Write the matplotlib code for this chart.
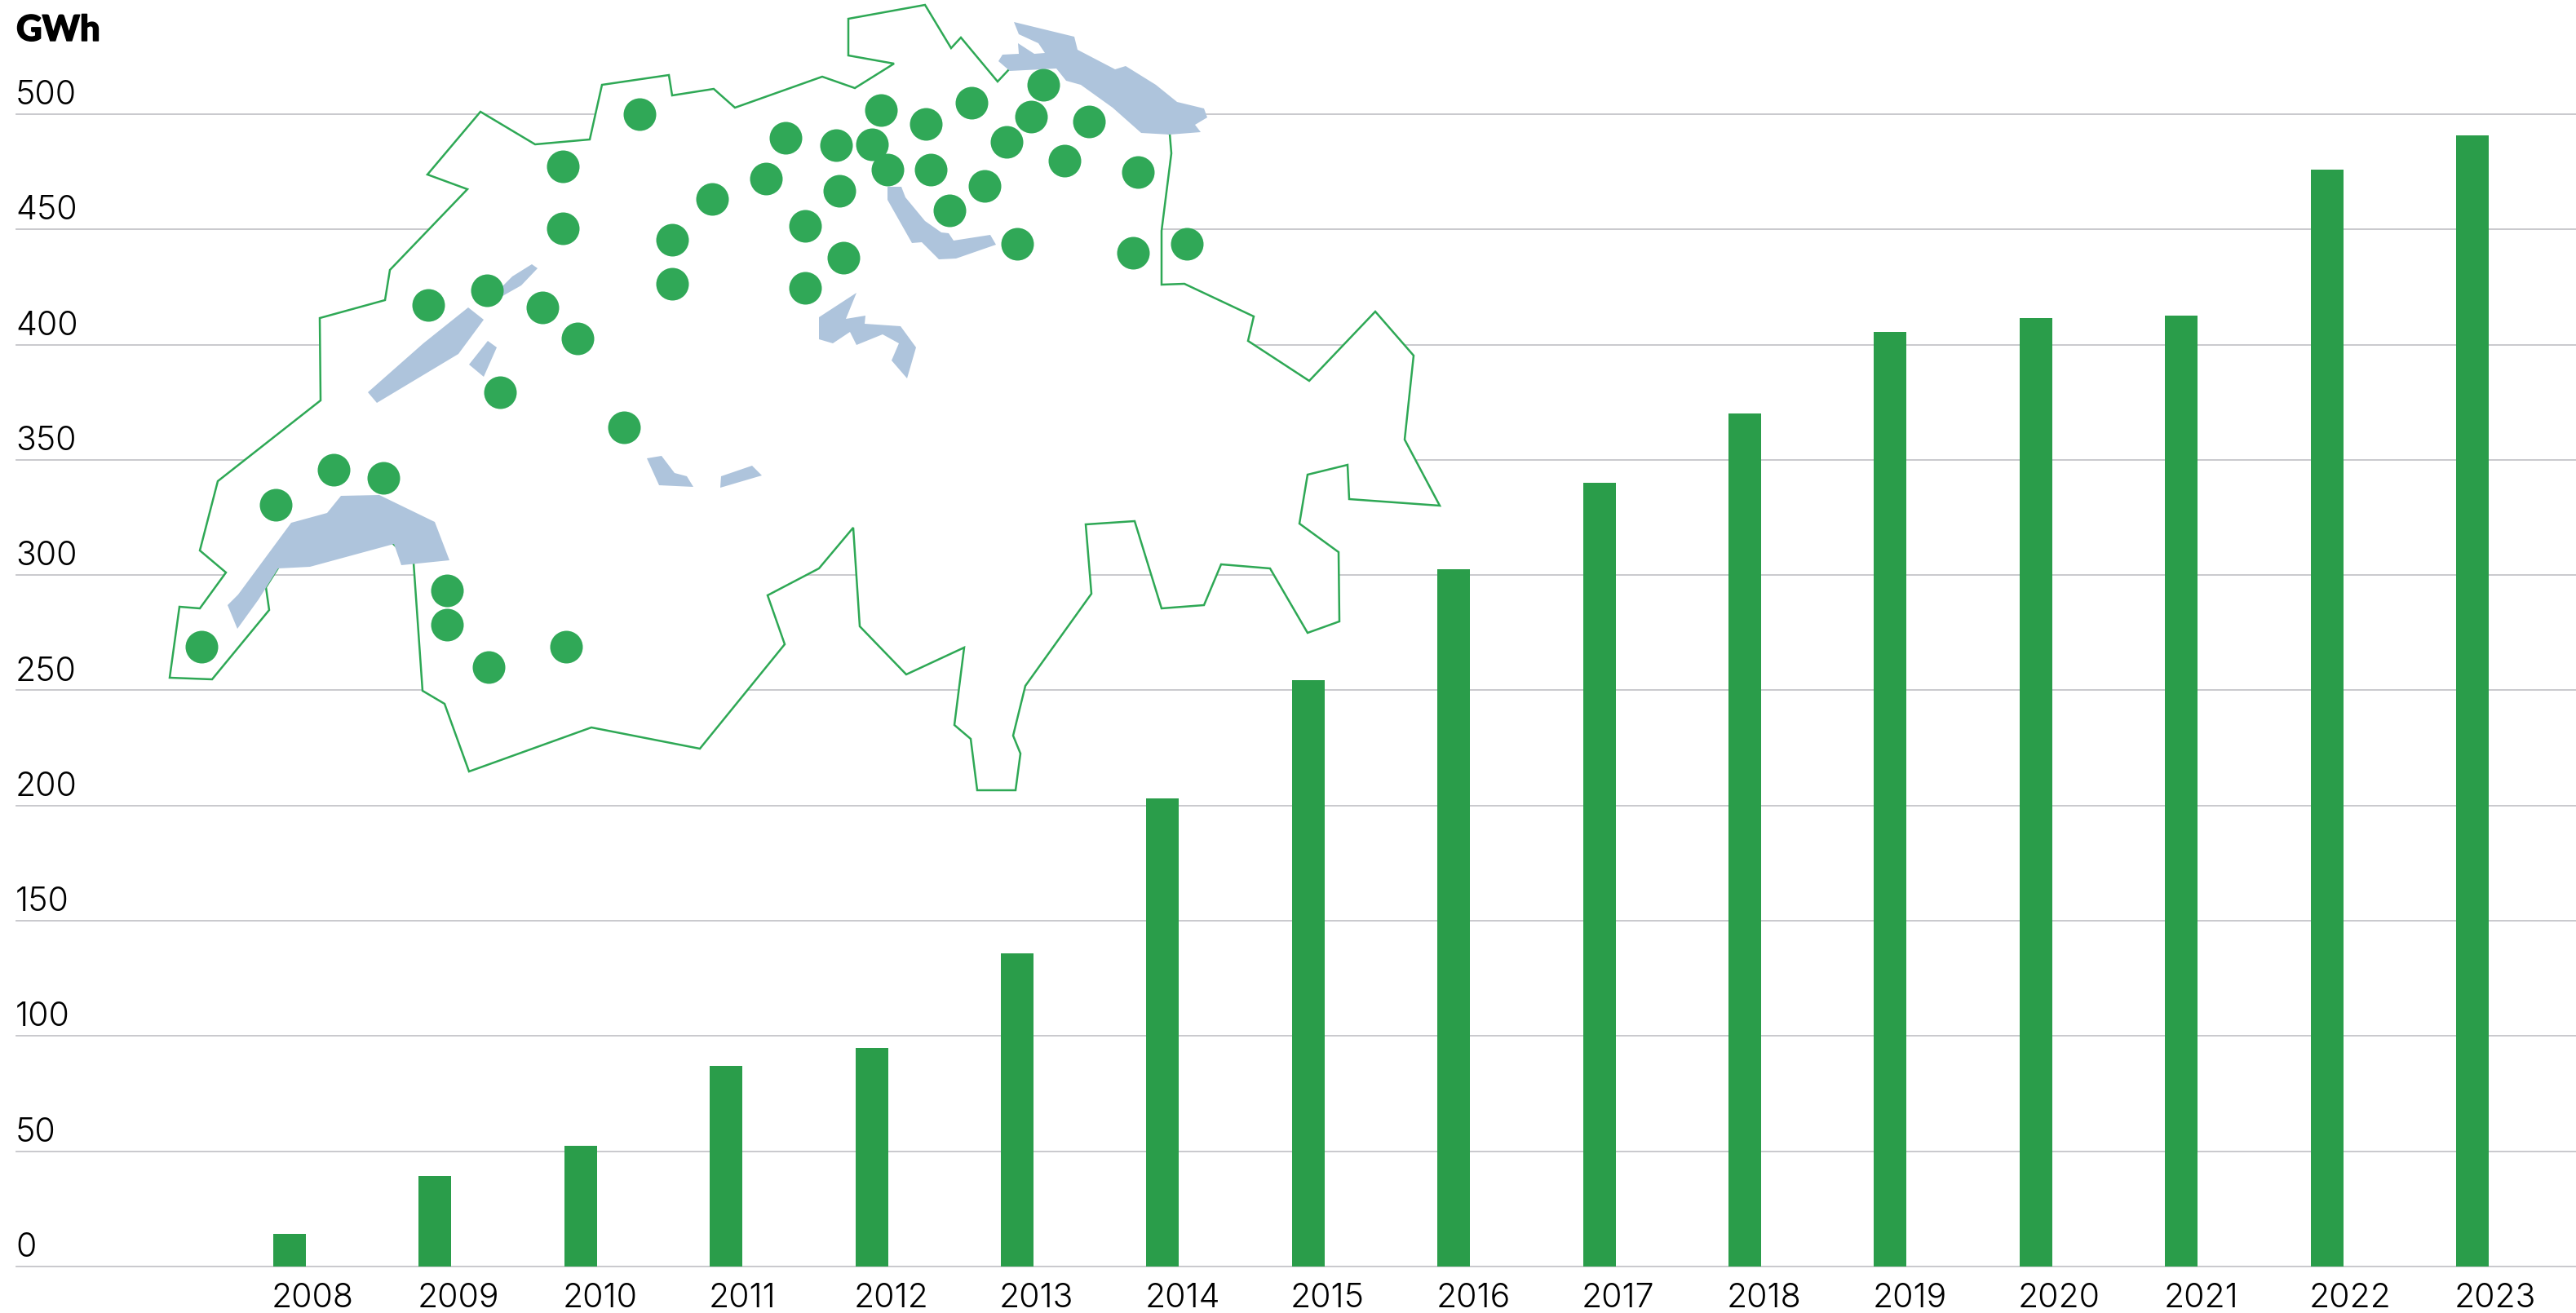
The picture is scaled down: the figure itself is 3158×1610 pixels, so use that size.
import numpy as np
import matplotlib
matplotlib.use("Agg")
import matplotlib.pyplot as plt
import matplotlib.patheffects as pe
from matplotlib.patches import Polygon
from matplotlib.transforms import ScaledTranslation

# ---------- data ----------
years = [2008, 2009, 2010, 2011, 2012, 2013, 2014, 2015,
         2016, 2017, 2018, 2019, 2020, 2021, 2022, 2023]
gwh = [14, 39.4, 52.4, 87, 95, 136, 203, 254.6,
       302.5, 340, 370, 405.5, 411.6, 412.7, 475.8, 490.8]
y_ticks = [0, 50, 100, 150, 200, 250, 300, 350, 400, 450, 500]
unit_label = "GWh"

# ---------- decorative map (image-space outline of Switzerland) ----------
border = [(208,831),(220,744),(245,746),(277,702),(245,675),(267,590),(393,491),(392,390),
          (472,368),(478,331),(573,232),(524,214),(589,137),(656,177),(723,171),(738,104),
          (820,92),(824,117),(875,109),(901,132),(1008,94),(1048,108),(1096,78),(1040,68),
          (1040,23),(1134,6),(1166,59),(1178,46),(1223,100),(1238,84),(1300,80),(1400,150),
          (1434,164),(1436,188),(1424,283),(1424,349),(1452,348),(1537,388),(1530,418),
          (1605,467),(1686,382),(1733,436),(1722,539),(1765,620),(1654,612),(1652,570),
          (1603,582),(1593,642),(1641,677),(1642,762),(1603,776),(1557,697),(1497,692),
          (1476,742),(1424,746),(1391,639),(1331,643),(1338,728),(1257,841),(1242,902),
          (1251,924),(1245,969),(1198,969),(1190,906),(1170,889),(1182,794),(1111,827),
          (1054,768),(1046,647),(1004,697),(941,730),(962,790),(858,918),(725,892),(575,946),
          (545,863),(518,847),(507,690),(480,665),(390,685),(345,690),(326,720),(330,748),(260,833)]
lake_geneva = [(291,771),(279,742),(292,729),(357,641),(401,629),(418,608),(465,607),(533,640),
               (551,687),(492,693),(483,667),(380,695),(341,697),(317,735)]
lake_brienz = [(793,562),(811,559),(827,580),(842,584),(850,597),(808,595)]
lake_thun = [(884,584),(922,571),(934,583),(883,598)]
lake_neuchatel = [(451,481),(519,421),(574,377),(593,392),(562,434),(462,494)]
lake_murten = [(575,447),(598,418),(609,426),(593,462)]
lake_biel = [(614,353),(628,339),(652,324),(659,329),(639,350),(616,363)]
lake_lucerne = [(1050,359),(1037,391),(1061,387),(1060,397),(1104,400),(1123,426),(1112,464),
                (1093,442),(1102,421),(1082,410),(1050,423),(1042,407),(1021,421),(1004,416),(1004,389)]
lake_zurich = [(1088,229),(1105,229),(1110,242),(1134,271),(1154,285),(1163,286),(1169,295),
               (1214,288),(1221,300),(1172,317),(1151,318),(1130,297),(1118,298),(1088,245)]
lake_constance = [(1243,27),(1317,45),(1321,61),(1367,85),(1380,81),(1417,104),(1443,125),(1476,133),
                  (1480,144),(1465,153),(1472,162),(1434,165),(1399,163),(1364,132),(1325,104),
                  (1307,99),(1295,84),(1238,87),(1224,75),(1229,67),(1249,66),(1248,53),(1268,66),
                  (1281,65),(1273,53),(1249,42)]
lakes = [lake_geneva, lake_brienz, lake_thun, lake_neuchatel, lake_murten, lake_biel,
         lake_lucerne, lake_zurich, lake_constance]
site_x = [784,690,690,963,939,873,824,824,525,597,665,708,613,1080,1025,1069,1088,1135,1141,1191,
          1234,1264,1279,1335,1305,1207,1164,1395,1247,1389,1455,1029,987,1034,987,
          765,409,470,338,548,548,599,694,247]
site_y = [140,204,280,169,219,244,294,348,374,356,377,415,481,135,178,177,208,152,208,126,
          174,143,104,149,197,228,258,211,299,310,299,234,277,316,353,
          524,576,586,619,724,766,818,793,793]

# ---------- style ----------
W, H, DPI = 3158, 1610, 100
BAR = "#2A9D4A"
DOT = "#30A857"
LINE = "#2EA855"
LAKE = "#AEC4DC"
GRID = "#C5C5C9"
plt.rcParams["font.family"] = ["Inter", "Lato", "DejaVu Sans"]
FS = 29.5

fig = plt.figure(figsize=(W / DPI, H / DPI), dpi=DPI, facecolor="white")

PX_UNIT = (1553 - 140) / 500
ax = fig.add_axes([20 / W, (H - 1553) / H, (W - 20) / W, 1553 / H - 0.0])
ax.set_ylim(0, 1553 / PX_UNIT)
STEP = 178.4
ax.set_xlim((20 - 355) / STEP, (W - 355) / STEP)
BW = 40 / STEP
x = np.arange(len(years))
ax.bar(x, gwh, width=BW, color=BAR, zorder=3, linewidth=0)
for s in ax.spines.values():
    s.set_visible(False)
ax.patch.set_alpha(0)
ax.set_yticks(y_ticks)
ax.set_yticklabels([str(v) for v in y_ticks], ha="left", va="baseline",
                   fontsize=FS, fontweight=300, color="#000000")
ax.tick_params(axis="y", length=0, pad=0)
shift = ScaledTranslation(-1 / DPI, 12 / DPI, fig.dpi_scale_trans)
for lab in ax.get_yticklabels():
    lab.set_transform(lab.get_transform() + shift)
ax.set_xticks(x - BW / 2)
ax.set_xticklabels([str(y) for y in years], ha="left", va="baseline",
                   fontsize=FS, fontweight=300, color="#000000")
ax.tick_params(axis="x", length=0, pad=0)
shift_x = ScaledTranslation(-2 / DPI, -50 / DPI, fig.dpi_scale_trans)
for lab in ax.get_xticklabels():
    lab.set_transform(lab.get_transform() + shift_x)
ax.grid(axis="y", color=GRID, linewidth=1.3, zorder=0)
ax.grid(axis="x", visible=False)
ax.set_axisbelow(True)
for gl in ax.get_ygridlines():
    gl.set_clip_on(False)

t = fig.text(20 / W, 1 - 50 / H, unit_label, fontsize=31.5, fontweight=900, color="#000000",
             family=["Lato", "DejaVu Sans"], ha="left", va="baseline")
t.set_path_effects([pe.withStroke(linewidth=1.0, foreground="#000000")])

m = fig.add_axes([0, 0, 1, 1], zorder=5)
m.set_xlim(0, W)
m.set_ylim(H, 0)
m.axis("off")
m.patch.set_alpha(0)
m.add_patch(Polygon(border, closed=True, facecolor="white", edgecolor=LINE, linewidth=1.8,
                    joinstyle="miter", zorder=1))
for lk in lakes:
    m.add_patch(Polygon(lk, closed=True, facecolor=LAKE, edgecolor="none", zorder=2))
dot_d_pt = 40 * 72 / DPI
m.scatter(site_x, site_y, s=dot_d_pt ** 2, color=DOT, linewidths=0, zorder=3)

fig.savefig("out.png", dpi=DPI, facecolor="white")
